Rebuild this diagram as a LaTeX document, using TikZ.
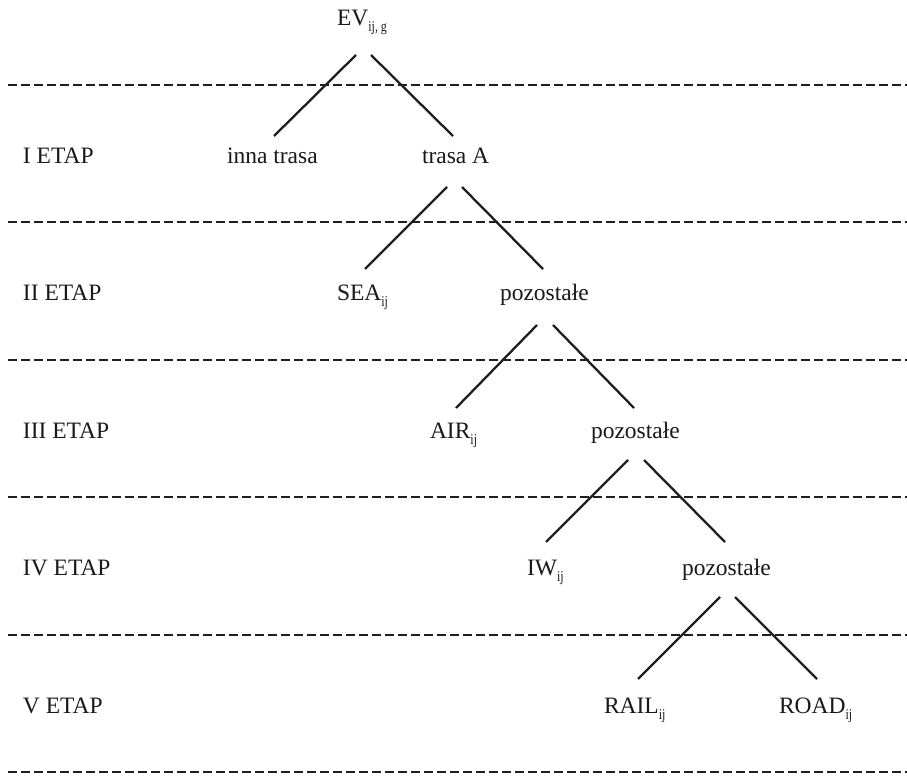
\documentclass[tikz,border=0pt]{standalone}
\usepackage{fontspec}
\setmainfont{Liberation Serif}
\usepackage{graphicx}
\newcommand{\lbl}[1]{\raisebox{-6pt}{\fontsize{15}{15}\selectfont\scalebox{0.8}[1]{#1}}}
\begin{document}
\begin{tikzpicture}[x=1pt,y=-1pt,
  txt/.style={anchor=base west,inner sep=0pt,outer sep=0pt,font=\fontsize{23.5}{27}\selectfont,text=black!90},
  branch/.style={line width=2.3pt,draw=black!88},
  sep/.style={line width=2.3pt,draw=black!88,dash pattern=on 9pt off 4pt}]
\useasboundingbox (0,0) rectangle (907,776);
% separators
\foreach \y/\n in {85/a,222/b,360/c,497/d,635/e,772/f}{
  \coordinate (s\n l) at (8,\y);
  \coordinate (s\n r) at (907,\y);
  \draw[sep] (s\n l) -- (s\n r);
}
% stage labels
\node[txt] (e1) at (23,163) {I ETAP};
\node[txt] (e2) at (23,300) {II ETAP};
\node[txt] (e3) at (23,438) {III ETAP};
\node[txt] (e4) at (23,575) {IV ETAP};
\node[txt] (e5) at (23,713) {V ETAP};
% tree nodes
\node[txt] (ev) at (337,26) {EV\lbl{ij, g}};
\node[txt] (inna) at (227,163) {inna trasa};
\node[txt] (trasa) at (422,163) {trasa A};
\node[txt] (sea) at (337,300) {SEA\lbl{ij}};
\node[txt] (p2) at (500,300) {pozostałe};
\node[txt] (air) at (430,438) {AIR\lbl{ij}};
\node[txt] (p3) at (591,438) {pozostałe};
\node[txt] (iw) at (527,575) {IW\lbl{ij}};
\node[txt] (p4) at (682,575) {pozostałe};
\node[txt] (rail) at (604,713) {RAIL\lbl{ij}};
\node[txt] (road) at (779,713) {ROAD\lbl{ij}};
% connector end points
\coordinate (ev-l) at (356,55);  \coordinate (inna-t) at (274,136);
\coordinate (ev-r) at (371,55);  \coordinate (trasa-t) at (453,136);
\coordinate (trasa-l) at (447,187); \coordinate (sea-t) at (365,269);
\coordinate (trasa-r) at (462,187); \coordinate (p2-t) at (543,269);
\coordinate (p2-l) at (537,325); \coordinate (air-t) at (456,408);
\coordinate (p2-r) at (553,325); \coordinate (p3-t) at (634,408);
\coordinate (p3-l) at (628,460); \coordinate (iw-t) at (546,542);
\coordinate (p3-r) at (644,460); \coordinate (p4-t) at (725,542);
\coordinate (p4-l) at (720,597); \coordinate (rail-t) at (638,679);
\coordinate (p4-r) at (735,597); \coordinate (road-t) at (817,679);
\draw[branch] (ev-l) -- (inna-t);
\draw[branch] (ev-r) -- (trasa-t);
\draw[branch] (trasa-l) -- (sea-t);
\draw[branch] (trasa-r) -- (p2-t);
\draw[branch] (p2-l) -- (air-t);
\draw[branch] (p2-r) -- (p3-t);
\draw[branch] (p3-l) -- (iw-t);
\draw[branch] (p3-r) -- (p4-t);
\draw[branch] (p4-l) -- (rail-t);
\draw[branch] (p4-r) -- (road-t);
\end{tikzpicture}
\end{document}
